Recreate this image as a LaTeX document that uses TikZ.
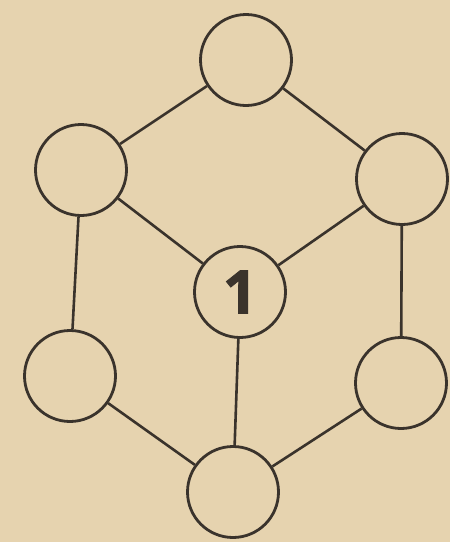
\documentclass[tikz,border=0pt]{standalone}
\usepackage{fontspec}
\newfontfamily\numfont{Open Sans}[BoldFeatures={FakeBold=1.5}]
\definecolor{paper}{HTML}{E6D3AF}
\definecolor{ink}{HTML}{3A332C}
\tikzset{
  cnode/.style={circle, draw=ink, line width=2.8pt, minimum size=91pt, inner sep=0pt},
  link/.style={draw=ink, line width=2.6pt}
}
\begin{document}
\begin{tikzpicture}[x=1pt,y=-1pt]
\fill[paper] (0,0) rectangle (450,542);
\useasboundingbox (0,0) rectangle (450,542);
\node[cnode] (t) at (246,60) {};
\node[cnode] (ul) at (81,170) {};
\node[cnode] (ur) at (402,179) {};
\node[cnode] (c) at (240,292) {\numfont\bfseries\fontsize{60}{60}\selectfont\color{ink}1};
\node[cnode] (ll) at (70,376) {};
\node[cnode] (lr) at (401,383) {};
\node[cnode] (b) at (233,492) {};
\draw[link] (t) -- (ul);
\draw[link] (t) -- (ur);
\draw[link] (ul) -- (c);
\draw[link] (ur) -- (c);
\draw[link] (ul) -- (ll);
\draw[link] (ur) -- (lr);
\draw[link] (c) -- (b);
\draw[link] (ll) -- (b);
\draw[link] (lr) -- (b);
\end{tikzpicture}
\end{document}
